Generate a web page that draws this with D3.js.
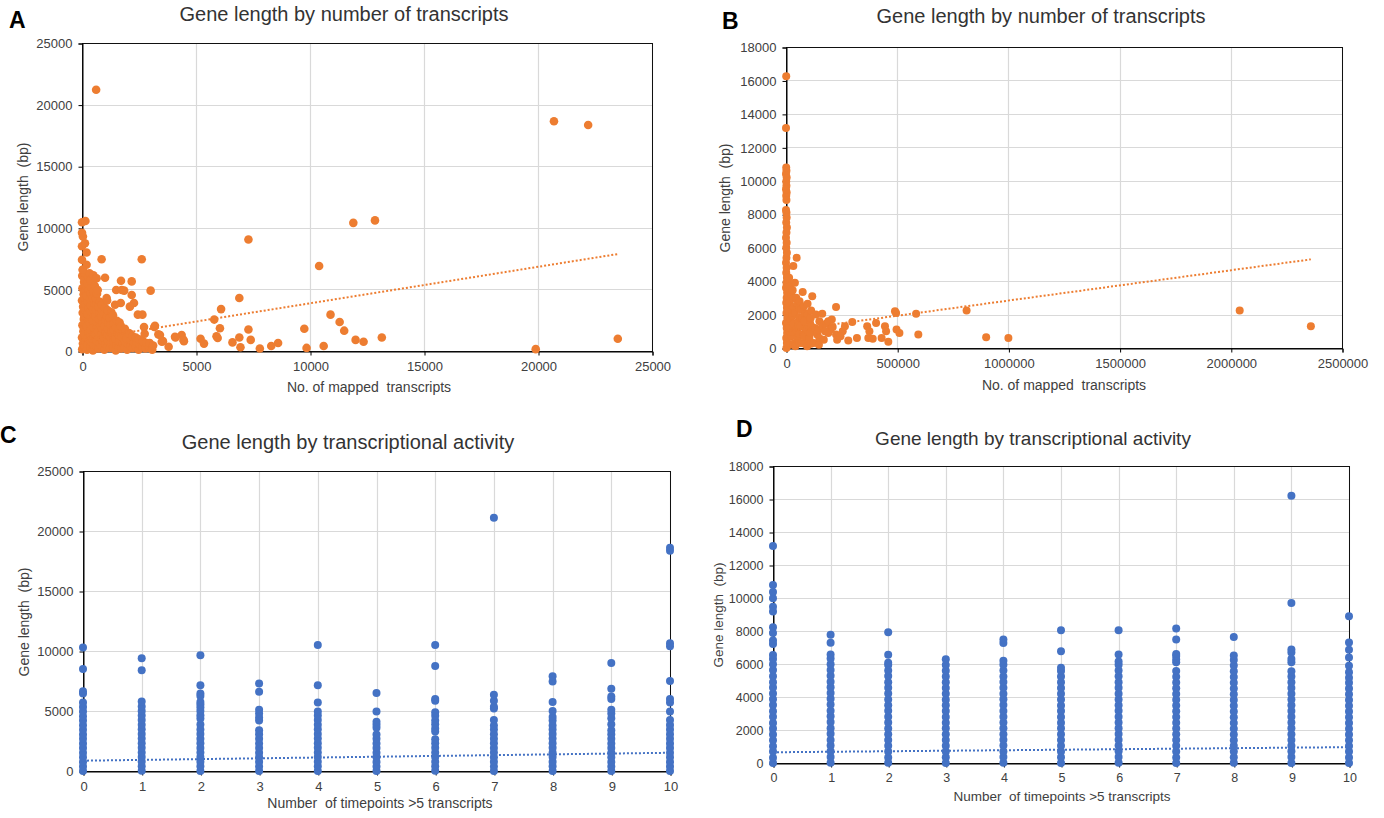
<!DOCTYPE html>
<html>
<head>
<meta charset="utf-8">
<script src="https://cdn.jsdelivr.net/npm/d3@7"></script>
<style>
body { margin: 0; background: #fff; }
text { font-family: "Liberation Sans", Arial, sans-serif; }
</style>
</head>
<body>
<script>
// Gene length vs transcripts — four Excel-style scatter panels

// ---- Panel A: [mapped transcripts, gene length (bp)] ----
const pointsA = [
  // dense block near the origin
  [10,150],[40,600],[0,1100],[60,1600],[20,2100],[80,2600],[30,3100],[50,3600],[0,4100],[70,4600],[20,5100],[90,5600],[10,6100],[40,6600],
  [120,350],[140,850],[110,1350],[130,1850],[150,2350],[100,2850],[120,3350],[140,3850],[110,4350],[130,4850],[150,5350],[120,5850],[100,6350],
  [220,100],[260,550],[240,1050],[280,1500],[210,2000],[270,2500],[230,3000],[290,3500],[250,4000],[200,4500],[300,5000],[240,5500],[270,6000],[330,6300],
  [370,300],[390,800],[360,1300],[380,1750],[350,2250],[400,2750],[370,3250],[390,3700],[360,4200],[380,4700],[400,5200],[370,5750],
  [480,50],[520,500],[460,1000],[540,1450],[500,1950],[470,2450],[530,2900],[490,3400],[550,3850],[470,4300],[520,4800],[560,5300],
  [620,400],[640,850],[610,1350],[630,1850],[650,2350],[600,2850],[620,3350],[640,3800],[610,4300],[660,4650],
  [720,200],[780,650],[750,1150],[700,1600],[800,2100],[740,2600],[770,3100],[720,3600],[790,4000],
  [870,350],[890,850],[860,1350],[880,1850],[900,2300],[850,2800],[880,3300],[870,3800],
  [980,100],[1020,600],[960,1100],[1050,1550],[990,2050],[1030,2550],[970,3000],[1010,3500],
  [1120,350],[1140,850],[1110,1300],[1130,1800],[1150,2300],[1100,2800],[1130,3300],
  [1230,250],[1280,700],[1220,1200],[1300,1650],[1250,2150],[1210,2700],[1290,3150],
  [1370,250],[1390,750],[1360,1250],[1380,1750],[1400,2250],[1360,2900],
  [1480,50],[1520,500],[1460,1000],[1550,1450],[1490,1950],[1530,2450],
  [1620,300],[1640,800],[1610,1300],[1630,1800],[1650,2300],
  [1720,200],[1780,650],[1740,1150],[1800,1600],[1710,2000],
  [1870,300],[1890,800],[1860,1300],[1880,1800],
  [1980,100],[2030,550],[1960,1000],[2050,1450],
  [2120,400],[2140,900],[2110,1400],
  [2230,250],[2280,700],[2210,1200],
  [2370,350],[2390,800],[2360,1100],
  [2480,100],[2530,550],[2500,950],
  [2650,300],[2670,800],
  [2780,200],[2830,650],[2950,250],[2970,650],[3080,100],[3120,450],
  // fringe of the cluster
  [3550,800],[4080,1150],[4370,1300],[4470,800],[3420,1300],[3170,1950],[2720,1950],[2650,2950],[2450,2950],
  [2280,3900],[2100,3600],[2180,4550],[1450,3750],[1700,3900],[1080,4300],[1100,4100],[690,4950],[1500,4950],
  [1740,4950],[1850,4900],[500,6150],[640,5900],[1010,5950],[1710,5700],[2180,5650],[3010,4900],[2620,7450],
  [860,7450],[0,7400],[30,6600],[200,7000],[200,8000],[0,8500],[130,8750],[40,9300],[0,9600],[0,10450],[150,10550],
  [3800,350],[3500,750],[3350,1350],[4100,1100],[4450,900],[2750,1400],[3200,2050],
  // scattered points
  [620,21200],[20700,18650],[22200,18350],[23500,1000],[19900,150],[12850,10600],[11900,10400],[7300,9050],
  [10400,6900],[6900,4300],[10900,2950],[11300,2350],[11500,1650],[12000,900],[12350,750],[13150,1100],
  [9750,1800],[9850,250],[10600,400],[7800,200],[8300,400],[8600,650],[7300,1750],[7400,900],[6950,300],
  [6900,1100],[6600,700],[5800,2550],[6100,3400],[6050,1850],[5900,1200],[5950,1050],[5200,1000],[5350,600]
];
const trendA = [[0, 910], [23500, 7870]];
const xTicksA = [0, 5000, 10000, 15000, 20000, 25000];
const yTicksA = [0, 5000, 10000, 15000, 20000, 25000];

// ---- Panel B: [mapped transcripts, gene length (bp)] ----
const pointsB = [
  // column at almost zero transcripts
  [2000,0],[4000,300],[1000,600],[5000,900],[3000,1200],[0,1500],[6000,1800],[2000,2100],[4000,2400],[1000,2700],
  [3000,3000],[5000,3300],[0,3600],[2000,3900],[4000,4200],[1000,4500],[3000,4800],[0,5100],[2000,5400],[4000,5700],
  [1000,6000],[3000,6300],[0,6600],[2000,6900],[4000,7200],[1000,7500],[3000,7800],[2000,8100],[0,8250],
  [2000,8850],[1000,9100],[3000,9300],[0,9500],[2000,9700],[1000,9950],[3000,10200],[0,10400],[2000,10600],[1000,10800],
  [0,13150],[1000,16250],
  // cluster
  [10000,250],[9000,650],[11000,1050],[8000,1450],[12000,1850],[10000,2250],[9000,2650],[11000,3050],[8000,3450],[10000,3850],[7000,4250],
  [18000,200],[25000,700],[15000,1200],[22000,1700],[28000,2200],[16000,2700],[24000,3200],[19000,3700],[14000,4200],
  [33000,250],[31000,950],[34000,1450],[30000,1950],[35000,2450],[32000,2950],[30000,3450],
  [33000,4900],[48000,5400],[40000,3900],
  [42000,100],[50000,600],[45000,1100],[55000,1600],[40000,2100],[52000,2600],[46000,3000],
  [58000,300],[60000,850],[57000,1350],[62000,1850],[59000,2350],[61000,2800],
  [70000,300],[78000,800],[66000,1300],[75000,1800],[68000,2300],[75000,3350],
  [84000,250],[82000,700],[86000,1200],[83000,1600],[85000,2100],[80000,2500],
  [95000,100],[105000,600],[92000,1100],[108000,1500],[97000,2000],[97000,2650],[118000,3100],
  [112000,250],[110000,900],[114000,1300],[111000,1800],[113000,2250],
  [125000,300],[140000,800],[130000,1200],[150000,1600],[135000,2000],
  [148000,200],[145000,1100],[150000,600],
  [170000,500],[190000,900],[165000,1300],[206000,1700],[180000,1450],[163000,2050],[225000,2450],[200000,1100],
  [190000,1600],[210000,1250],[175000,1000],
  [225000,800],[230000,500],[255000,1000],[265000,1300],[280000,450],[298000,1550],[245000,700],
  // spread
  [319000,600],[365000,1300],[370000,600],[375000,1000],[390000,550],[405000,1500],[430000,600],[445000,1300],
  [450000,1000],[460000,380],[490000,2200],[495000,2100],[497000,1100],[510000,900],[585000,2050],[595000,800],
  [812000,2250],[900000,650],[1000000,600],[2040000,2250],[2360000,1300]
];
const trendB = [[0, 1025], [2360000, 5300]];
const xTicksB = [0, 500000, 1000000, 1500000, 2000000, 2500000];
const yTicksB = [0, 2000, 4000, 6000, 8000, 10000, 12000, 14000, 16000, 18000];

// ---- Panel C: gene lengths per number of timepoints (index = timepoints) ----
const timepoints = [0, 1, 2, 3, 4, 5, 6, 7, 8, 9, 10];
const lengthsC = [
  [0,370,760,1140,1520,1910,2290,2680,3050,3430,3820,4200,4570,4960,5330,5700,6450,6650,8500,10300],
  [20,400,790,1170,1550,1930,2320,2700,3090,3470,3850,4240,4620,5000,5380,5800,8400,9400],
  [0,390,770,1160,1540,1920,2310,2690,3080,3460,3880,4380,4650,5000,5300,5550,5750,6250,6450,7150,9650],
  [10,380,770,1150,1530,1920,2300,2690,3070,3400,4200,4450,4800,5100,6600,7300],
  [0,390,780,1160,1550,1930,2320,2700,3090,3470,3850,4240,4620,4950,5700,7150,10500],
  [0,380,760,1150,1530,1910,2300,2680,3050,3600,3850,4100,4950,6500],
  [20,400,780,1160,1550,1930,2310,2650,3300,3550,3900,4200,4600,4900,5850,6000,8750,10500],
  [0,380,770,1150,1540,1920,2310,2690,3070,3450,3800,4250,5200,5350,5850,6350,21100],
  [10,390,770,1160,1540,1930,2310,2700,3080,3450,3800,4200,4500,5000,5750,7450,7900],
  [0,380,760,1150,1530,1910,2300,2680,3060,3400,3900,4400,4800,5100,6000,6200,6850,9000],
  [0,370,760,1140,1530,1910,2300,2680,3070,3450,3830,4250,4950,5700,6000,7500,10400,10650,18350,18600]
];
const trendC = [[0, 860], [10, 1520]];
const yTicksC = [0, 5000, 10000, 15000, 20000, 25000];

// ---- Panel D: gene lengths per number of timepoints (index = timepoints) ----
const lengthsD = [
  [0,320,690,1010,1380,1720,2090,2430,2810,3140,3520,3860,4210,4570,4900,5260,5630,5980,6310,6540,7210,7420,7880,8230,9180,9470,9980,10370,10790,13150],
  [20,360,710,1060,1400,1770,2110,2480,2830,3170,3540,3890,4240,4590,4930,5290,5640,5990,6330,6580,7290,7780],
  [10,340,690,1050,1390,1740,2090,2450,2800,3160,3500,3850,4210,4560,4900,5270,5610,5940,6070,6560,7930],
  [0,350,700,1040,1390,1750,2100,2440,2790,3150,3500,3840,4190,4550,4900,5250,5590,5940,6290],
  [10,360,700,1060,1410,1750,2110,2460,2800,3150,3510,3860,4200,4560,4910,5250,5610,5950,6200,7270,7480],
  [0,350,690,1050,1400,1740,2100,2440,2790,3150,3490,3850,4190,4550,4890,5240,5580,5780,6780,8040],
  [20,370,710,1060,1410,1760,2100,2450,2810,3160,3500,3850,4200,4560,4900,5260,5600,5950,6150,6580,8050],
  [0,340,700,1040,1390,1740,2090,2440,2790,3130,3480,3830,4180,4530,4880,5230,5580,6100,6280,6480,6600,7480,8150],
  [10,350,690,1040,1380,1730,2080,2430,2780,3120,3470,3820,4170,4520,4860,5210,5560,5910,6250,6520,7630],
  [0,360,710,1050,1400,1750,2100,2450,2800,3150,3500,3850,4200,4550,4900,5250,5560,6110,6300,6700,6880,9700,16200],
  [0,340,690,1030,1380,1730,2080,2430,2780,3120,3470,3820,4170,4520,4870,5170,5500,5900,6400,6870,7300,8900]
];
const trendD = [[0, 650], [10, 960]];
const yTicksD = [0, 2000, 4000, 6000, 8000, 10000, 12000, 14000, 16000, 18000];

const orange = "#ED7D31";
const blue = "#4472C4";

const svg = d3.select("body")
  .append("svg")
  .attr("width", 1384)
  .attr("height", 818);

svg.append("rect").attr("width", 1384).attr("height", 818).attr("fill", "#fff");

// flatten the per-timepoint columns into [x, y] pairs
function columnsToPoints(cols) {
  const out = [];
  cols.forEach((col, i) => col.forEach(v => out.push([timepoints[i], v])));
  return out;
}

function drawPanel(p) {
  const x = d3.scaleLinear().domain(p.xDomain).range([p.left, p.right]);
  const y = d3.scaleLinear().domain(p.yDomain).range([p.bottom, p.top]);
  const g = svg.append("g");
  const px = v => Math.round(v) + 0.5;

  // grid lines
  g.append("g").selectAll("line")
    .data(p.yTicks.slice(1))
    .join("line")
    .attr("x1", p.left).attr("x2", p.right)
    .attr("y1", d => px(y(d))).attr("y2", d => px(y(d)))
    .attr("stroke", "#d9d9d9").attr("stroke-width", 1.2);
  g.append("g").selectAll("line")
    .data(p.xTicks.slice(1))
    .join("line")
    .attr("y1", p.top).attr("y2", p.bottom)
    .attr("x1", d => px(x(d))).attr("x2", d => px(x(d)))
    .attr("stroke", "#d9d9d9").attr("stroke-width", 1.2);

  // plot border
  g.append("rect")
    .attr("x", px(p.left)).attr("y", px(p.top))
    .attr("width", Math.round(p.right - p.left)).attr("height", Math.round(p.bottom - p.top))
    .attr("fill", "none").attr("stroke", "#111").attr("stroke-width", 1);

  // axes
  const xAxis = d3.axisBottom(x).tickValues(p.xTicks).tickFormat(d3.format("d"))
    .tickSize(4).tickPadding(6);
  const yAxis = d3.axisLeft(y).tickValues(p.yTicks).tickFormat(d3.format("d"))
    .tickSize(4).tickPadding(6);

  const gx = g.append("g").attr("transform", `translate(0.5, ${px(p.bottom)})`).call(xAxis);
  const gy = g.append("g").attr("transform", `translate(${px(p.left)}, 0.5)`).call(yAxis);
  [gx, gy].forEach(a => {
    a.select(".domain").attr("stroke", "#000");
    a.selectAll(".tick line").attr("stroke", "#000");
    a.selectAll("text")
      .attr("fill", "#404040")
      .style("font-size", p.tickSize + "px")
      .style("font-family", "'Liberation Sans', Arial, sans-serif");
  });

  // points
  g.append("g").selectAll("circle")
    .data(p.points)
    .join("circle")
    .attr("cx", d => x(d[0]))
    .attr("cy", d => y(d[1]))
    .attr("r", p.r)
    .attr("fill", p.color);

  // linear trendline (dotted)
  g.append("path")
    .attr("d", d3.line().x(d => x(d[0])).y(d => y(d[1]))(p.trend))
    .attr("fill", "none")
    .attr("stroke", p.color)
    .attr("stroke-width", 2)
    .attr("stroke-dasharray", "2,2");

  // titles
  g.append("text")
    .attr("x", p.title.x).attr("y", p.title.y)
    .attr("text-anchor", "middle")
    .attr("fill", "#333")
    .style("font-size", p.title.size + "px")
    .text(p.title.text);

  g.append("text")
    .attr("x", p.xLabel.x).attr("y", p.xLabel.y)
    .attr("text-anchor", "middle")
    .attr("fill", "#404040")
    .style("font-size", p.labelSize + "px")
    .style("white-space", "pre")
    .text(p.xLabel.text);

  g.append("text")
    .attr("transform", `translate(${p.yLabel.x}, ${p.yLabel.y}) rotate(-90)`)
    .attr("text-anchor", "middle")
    .attr("dy", "0.35em")
    .attr("fill", "#404040")
    .style("font-size", p.labelSize + "px")
    .style("white-space", "pre")
    .text(p.yLabel.text);

  // panel letter
  g.append("text")
    .attr("x", p.letter.x).attr("y", p.letter.y)
    .attr("fill", "#000")
    .style("font-size", "23px")
    .style("font-weight", "bold")
    .text(p.letter.text);
}

drawPanel({
  left: 82, right: 652, top: 43, bottom: 351,
  xDomain: [0, 25000], yDomain: [0, 25000],
  xTicks: xTicksA, yTicks: yTicksA,
  points: pointsA, trend: trendA, color: orange, r: 4.3,
  tickSize: 13, labelSize: 14,
  title: { text: "Gene length by number of transcripts", x: 344, y: 21, size: 20 },
  xLabel: { text: "No. of mapped  transcripts", x: 369, y: 392 },
  yLabel: { text: "Gene length  (bp)", x: 23, y: 197 },
  letter: { text: "A", x: 9, y: 28 }
});

drawPanel({
  left: 786, right: 1342, top: 47, bottom: 348,
  xDomain: [0, 2500000], yDomain: [0, 18000],
  xTicks: xTicksB, yTicks: yTicksB,
  points: pointsB, trend: trendB, color: orange, r: 4,
  tickSize: 13, labelSize: 14,
  title: { text: "Gene length by number of transcripts", x: 1041, y: 23, size: 20 },
  xLabel: { text: "No. of mapped  transcripts", x: 1064, y: 390 },
  yLabel: { text: "Gene length  (bp)", x: 725, y: 198 },
  letter: { text: "B", x: 722, y: 29 }
});

drawPanel({
  left: 83, right: 670, top: 471, bottom: 771,
  xDomain: [0, 10], yDomain: [0, 25000],
  xTicks: timepoints, yTicks: yTicksC,
  points: columnsToPoints(lengthsC), trend: trendC, color: blue, r: 4,
  tickSize: 13, labelSize: 14,
  title: { text: "Gene length by transcriptional activity", x: 348, y: 449, size: 20 },
  xLabel: { text: "Number  of timepoints >5 transcripts", x: 380, y: 808 },
  yLabel: { text: "Gene length  (bp)", x: 24, y: 622 },
  letter: { text: "C", x: 0, y: 443 }
});

drawPanel({
  left: 773, right: 1349, top: 466, bottom: 763,
  xDomain: [0, 10], yDomain: [0, 18000],
  xTicks: timepoints, yTicks: yTicksD,
  points: columnsToPoints(lengthsD), trend: trendD, color: blue, r: 4,
  tickSize: 12.5, labelSize: 13.5,
  title: { text: "Gene length by transcriptional activity", x: 1033, y: 445, size: 19 },
  xLabel: { text: "Number  of timepoints >5 transcripts", x: 1062, y: 801 },
  yLabel: { text: "Gene length  (bp)", x: 718, y: 615 },
  letter: { text: "D", x: 736, y: 437 }
});
</script>
</body>
</html>
